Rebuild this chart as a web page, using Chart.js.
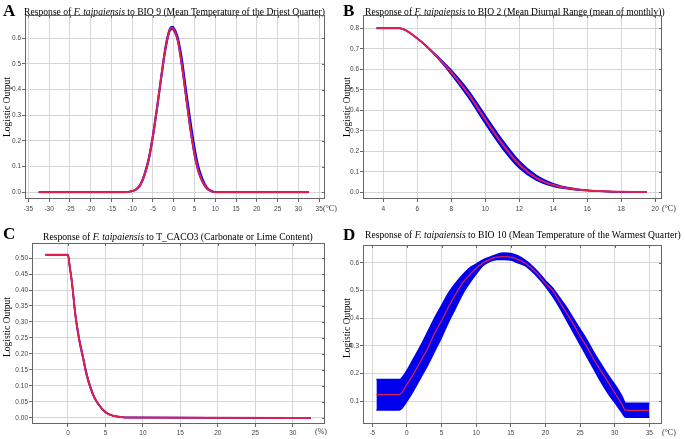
<!DOCTYPE html>
<html>
<head>
<meta charset="utf-8">
<script src="https://cdn.jsdelivr.net/npm/chart.js"></script>
<style>
body { margin: 0; background: #fff; width: 685px; height: 439px; position: relative; overflow: hidden; }
.panel { position: absolute; }
</style>
</head>
<body>
<div class="panel" style="left:0;top:0"><canvas id="cA" width="340" height="220"></canvas></div>
<div class="panel" style="left:340px;top:0"><canvas id="cB" width="345" height="220"></canvas></div>
<div class="panel" style="left:0;top:220px"><canvas id="cC" width="340" height="219"></canvas></div>
<div class="panel" style="left:340px;top:220px"><canvas id="cD" width="345" height="219"></canvas></div>
<script>
// A - BIO 9
const xA = [-32.5, -12, -10, -9, -8, -7, -6, -5, -4, -3, -2, -1, -0.4, 0, 1, 2, 3, 4, 5, 6, 7, 8, 9, 10, 12, 32.5];
const meanA = [0, 0, 0.005, 0.012, 0.03, 0.07, 0.13, 0.22, 0.33, 0.45, 0.56, 0.63, 0.64, 0.635, 0.59, 0.49, 0.37, 0.25, 0.15, 0.08, 0.04, 0.015, 0.005, 0, 0, 0];
const upA = [0, 0, 0.006, 0.014, 0.034, 0.076, 0.138, 0.23, 0.34, 0.46, 0.57, 0.636, 0.645, 0.642, 0.605, 0.52, 0.40, 0.285, 0.18, 0.10, 0.052, 0.02, 0.007, 0.001, 0, 0];
const loA = [0, 0, 0.004, 0.01, 0.027, 0.065, 0.123, 0.212, 0.322, 0.44, 0.55, 0.625, 0.635, 0.63, 0.585, 0.482, 0.36, 0.24, 0.142, 0.074, 0.036, 0.013, 0.004, 0, 0, 0];
const xTicksA = [-35, -30, -25, -20, -15, -10, -5, 0, 5, 10, 15, 20, 25, 30, 35];
const yTicksA = [0, 0.1, 0.2, 0.3, 0.4, 0.5, 0.6];

// B - BIO 2
const xB = [3.6, 4.95, 6, 7, 8, 9, 10, 11, 12, 13, 14, 15, 16, 17, 18, 19.5];
const meanB = [0.8, 0.8, 0.75, 0.675, 0.585, 0.48, 0.355, 0.235, 0.135, 0.07, 0.035, 0.018, 0.009, 0.005, 0.002, 0.001];
const upB = [0.8, 0.8, 0.751, 0.678, 0.595, 0.497, 0.375, 0.255, 0.152, 0.082, 0.042, 0.021, 0.01, 0.005, 0.002, 0.001];
const loB = [0.8, 0.8, 0.749, 0.672, 0.575, 0.463, 0.335, 0.215, 0.118, 0.059, 0.029, 0.015, 0.008, 0.004, 0.002, 0.001];
const xTicksB = [4, 6, 8, 10, 12, 14, 16, 18, 20];
const yTicksB = [0, 0.1, 0.2, 0.3, 0.4, 0.5, 0.6, 0.7, 0.8];

// C - T_CACO3
const xC = [-3, 0, 0.25, 0.5, 1, 1.5, 2, 2.5, 3, 3.5, 4, 5, 6, 7, 8, 32.4];
const meanC = [0.51, 0.51, 0.47, 0.43, 0.32, 0.245, 0.19, 0.135, 0.095, 0.065, 0.045, 0.018, 0.007, 0.003, 0.001, 0];
const upC = [0.51, 0.51, 0.471, 0.432, 0.323, 0.249, 0.194, 0.139, 0.098, 0.067, 0.046, 0.019, 0.007, 0.003, 0.001, 0];
const loC = [0.51, 0.51, 0.469, 0.428, 0.317, 0.241, 0.186, 0.131, 0.092, 0.063, 0.044, 0.017, 0.007, 0.003, 0.001, 0];
const xTicksC = [0, 5, 10, 15, 20, 25, 30];
const yTicksC = [0, 0.05, 0.1, 0.15, 0.2, 0.25, 0.3, 0.35, 0.4, 0.45, 0.5];

// D - BIO 10
const xD = [-4.4, -1.1, 0, 1, 2, 3, 4, 5, 6, 7, 8, 9, 10, 11, 12, 13, 14, 15, 16, 17, 18, 19, 20, 21, 22, 23, 24, 25, 26, 27, 28, 29, 30, 31, 31.6, 35];
const meanD = [0.123, 0.123, 0.16, 0.20, 0.245, 0.29, 0.345, 0.39, 0.44, 0.485, 0.525, 0.555, 0.58, 0.60, 0.612, 0.62, 0.622, 0.62, 0.612, 0.60, 0.58, 0.555, 0.525, 0.50, 0.46, 0.42, 0.38, 0.335, 0.295, 0.25, 0.21, 0.17, 0.13, 0.09, 0.066, 0.066];
const upD = [0.178, 0.178, 0.21, 0.255, 0.30, 0.35, 0.40, 0.445, 0.49, 0.525, 0.555, 0.58, 0.595, 0.61, 0.62, 0.63, 0.635, 0.633, 0.625, 0.61, 0.59, 0.565, 0.535, 0.51, 0.475, 0.44, 0.40, 0.36, 0.32, 0.275, 0.235, 0.195, 0.16, 0.12, 0.092, 0.092];
const loD = [0.068, 0.068, 0.10, 0.14, 0.185, 0.23, 0.28, 0.33, 0.385, 0.435, 0.485, 0.525, 0.56, 0.59, 0.605, 0.612, 0.612, 0.61, 0.60, 0.59, 0.57, 0.545, 0.515, 0.48, 0.44, 0.395, 0.35, 0.305, 0.26, 0.215, 0.17, 0.13, 0.095, 0.06, 0.041, 0.041];
const xTicksD = [-5, 0, 5, 10, 15, 20, 25, 30, 35];
const yTicksD = [0.1, 0.2, 0.3, 0.4, 0.5, 0.6];

const pts = (xs, ys) => xs.map((x, i) => ({ x: x, y: ys[i] }));

// letter, title, axis title and unit, plus the frame round the plot
const decor = {
  id: 'decor',
  afterDraw(chart, args, o) {
    const ctx = chart.ctx;
    const a = chart.chartArea;
    ctx.save();
    ctx.fillStyle = '#000';
    ctx.textBaseline = 'middle';
    ctx.textAlign = 'left';
    ctx.font = 'bold 17px "Liberation Serif"';
    ctx.fillText(o.letter, o.lx, o.ly);

    // title with italic species name, sized to its width in the picture
    const seg = o.title;
    const fontOf = (s, it) => (it ? 'italic ' : '') + s + 'px "Liberation Serif"';
    let w = 0;
    seg.forEach(s => { ctx.font = fontOf(10, s[1]); w += ctx.measureText(s[0]).width; });
    const size = 10 * (o.tx1 - o.tx0) / w;
    let x = o.tx0;
    seg.forEach(s => {
      ctx.font = fontOf(size.toFixed(2), s[1]);
      ctx.fillText(s[0], x, o.ty);
      x += ctx.measureText(s[0]).width;
    });

    // y title
    ctx.font = '10px "Liberation Serif"';
    const yw = ctx.measureText('Logistic Output').width;
    ctx.font = (10 * o.ylen / yw).toFixed(2) + 'px "Liberation Serif"';
    ctx.translate(o.ycx, o.ycy);
    ctx.rotate(-Math.PI / 2);
    ctx.textAlign = 'center';
    ctx.fillText('Logistic Output', 0, 0);
    ctx.setTransform(1, 0, 0, 1, 0, 0);

    // unit
    ctx.textAlign = 'left';
    ctx.fillStyle = '#333';
    ctx.font = '8px "Liberation Serif"';
    ctx.fillText(o.unit, o.ux, o.uy);

    // frame and inner ticks on top and right
    ctx.strokeStyle = '#666';
    ctx.lineWidth = 1;
    ctx.strokeRect(a.left + 0.5, a.top + 0.5, a.right - a.left - 1, a.bottom - a.top - 1);
    const xs = chart.scales.x, ys = chart.scales.y;
    ctx.beginPath();
    xs.ticks.forEach(t => {
      const px = Math.round(xs.getPixelForValue(t.value)) + 0.5;
      ctx.moveTo(px, a.top); ctx.lineTo(px, a.top + 3);
    });
    ys.ticks.forEach(t => {
      const py = Math.round(ys.getPixelForValue(t.value)) + 0.5;
      ctx.moveTo(a.right, py); ctx.lineTo(a.right - 3, py);
    });
    ctx.stroke();
    ctx.restore();
  }
};

function makeChart(id, xs, mean, up, lo, xTicks, yTicks, lim, box, deco, redW, yDec) {
  const tickFont = { family: '"Liberation Sans"', size: 6.5 };
  return new Chart(document.getElementById(id), {
    type: 'line',
    data: {
      datasets: [
        { data: pts(xs, up), order: 2, borderColor: '#0000ee', backgroundColor: '#0000ee', borderWidth: 1.5, fill: '+1', pointRadius: 0, cubicInterpolationMode: 'monotone' },
        { data: pts(xs, lo), order: 1, borderColor: '#0000ee', borderWidth: 1.5, fill: false, pointRadius: 0, cubicInterpolationMode: 'monotone' },
        { data: pts(xs, mean), order: 0, borderColor: '#e0204e', borderWidth: redW, fill: false, pointRadius: 0, cubicInterpolationMode: 'monotone' }
      ]
    },
    options: {
      responsive: false,
      animation: false,
      events: [],
      layout: { padding: { left: 0, top: box.top, right: box.right, bottom: 0 } },
      plugins: { legend: { display: false }, tooltip: { enabled: false }, decor: deco },
      scales: {
        x: {
          type: 'linear', min: lim[0], max: lim[1],
          afterBuildTicks: s => { s.ticks = xTicks.map(v => ({ value: v })); },
          afterFit: s => { s.height = box.xh; },
          grid: { color: '#d6d6d6', tickColor: '#666', tickLength: 3 },
          border: { display: false },
          ticks: { font: tickFont, color: '#444', padding: box.xpad, maxRotation: 0, callback: v => String(v) }
        },
        y: {
          min: lim[2], max: lim[3],
          afterBuildTicks: s => { s.ticks = yTicks.map(v => ({ value: v })); },
          afterFit: s => { s.width = box.yw; },
          grid: { color: '#d6d6d6', tickColor: '#666', tickLength: 3 },
          border: { display: false },
          ticks: { font: tickFont, color: '#444', padding: 1, callback: v => Number(v).toFixed(yDec) }
        }
      }
    },
    plugins: [decor]
  });
}

makeChart('cA', xA, meanA, upA, loA, xTicksA, yTicksA, [-35.8, 36.4, -0.026, 0.69],
  { top: 15, right: 15, xh: 21, yw: 25, xpad: 3 },
  { letter: 'A', lx: 3, ly: 12, title: [['Response of ', false], ['F. taipaiensis', true], [' to BIO 9 (Mean Temperature of the Driest Quarter)', false]],
    tx0: 24, tx1: 325, ty: 12, ycx: 7, ycy: 107, ylen: 60, unit: '(°C)', ux: 323, uy: 209 }, 2, 1);

makeChart('cB', xB, meanB, upB, loB, xTicksB, yTicksB, [2.8, 20.4, -0.033, 0.865],
  { top: 15, right: 23, xh: 21, yw: 23, xpad: 3 },
  { letter: 'B', lx: 3, ly: 12, title: [['Response of ', false], ['F. taipaiensis', true], [' to BIO 2 (Mean Diurnal Range (mean of monthly))', false]],
    tx0: 25, tx1: 325, ty: 12, ycx: 7, ycy: 107, ylen: 60, unit: '(°C)', ux: 322, uy: 209 }, 2, 1);

makeChart('cC', xC, meanC, upC, loC, xTicksC, yTicksC, [-4.8, 34.3, -0.019, 0.547],
  { top: 23, right: 15, xh: 15, yw: 32, xpad: 2 },
  { letter: 'C', lx: 3, ly: 15, title: [['Response of ', false], ['F. taipaiensis', true], [' to T_CACO3 (Carbonate or Lime Content)', false]],
    tx0: 43, tx1: 313, ty: 17, ycx: 7, ycy: 107, ylen: 60, unit: '(%)', ux: 315, uy: 212 }, 2, 2);

makeChart('cD', xD, meanD, upD, loD, xTicksD, yTicksD, [-6.34, 36.83, 0.017, 0.664],
  { top: 25, right: 23, xh: 15, yw: 23, xpad: 2 },
  { letter: 'D', lx: 3, ly: 15.5, title: [['Response of ', false], ['F. taipaiensis', true], [' to BIO 10 (Mean Temperature of the Warmest Quarter)', false]],
    tx0: 25, tx1: 341, ty: 15, ycx: 7, ycy: 108, ylen: 60, unit: '(°C)', ux: 322, uy: 213 }, 1.2, 1);
</script>
</body>
</html>
